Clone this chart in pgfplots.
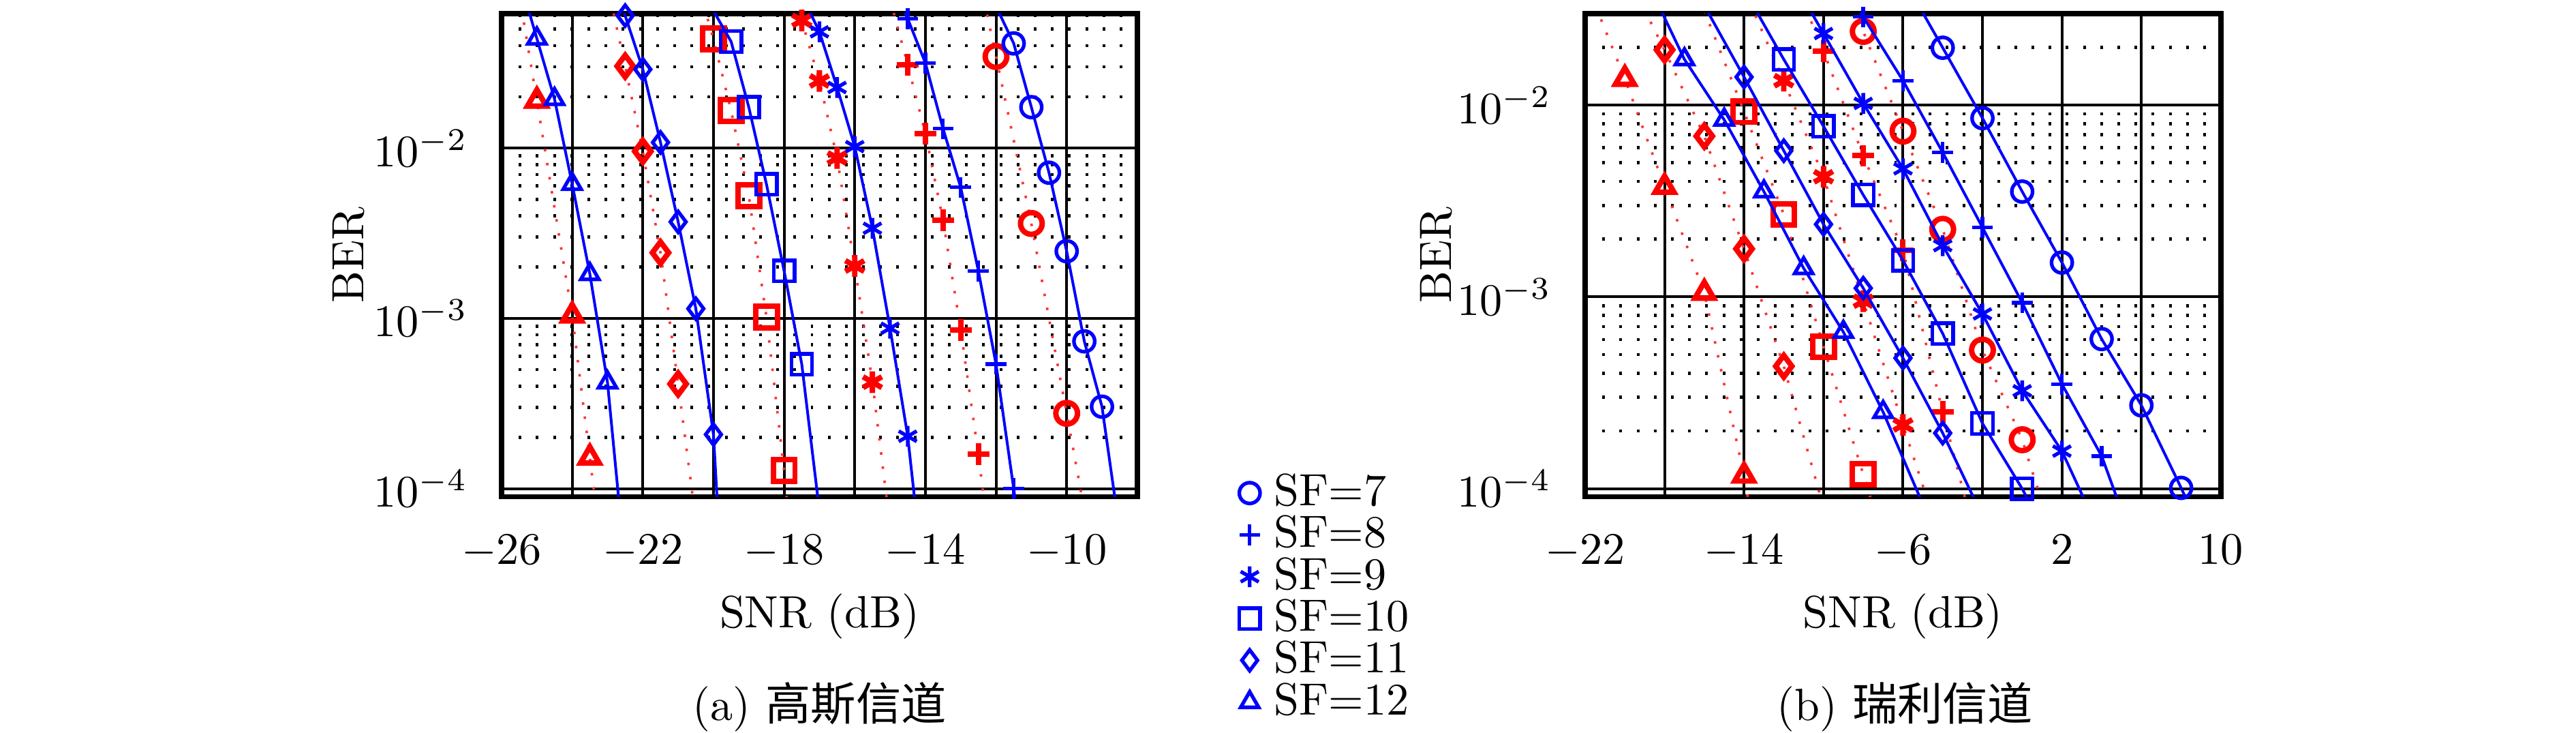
\documentclass[border=0pt]{standalone}
\usepackage{pgfplots}
\pgfplotsset{compat=1.18}
\usepackage{fontspec}
\newfontfamily\cjk{Noto Sans CJK SC}
\pgfplotsset{
  berax/.style={
    scale only axis, width=140.7pt, height=106.9pt,
    anchor=south west,
    clip mode=individual,
    axis line style={line width=1.1pt},
    xmajorgrids, ymajorgrids, yminorgrids,
    major grid style={black, line width=0.6pt},
    minor grid style={black, line width=0.7pt, dash pattern=on 0.6pt off 3.2pt},
    major tick length=0pt, minor tick length=0pt,
    ytick={1e-4,1e-3,1e-2},
    xticklabel style={yshift=-5pt},
    yticklabel style={xshift=-4pt},
    xlabel={SNR (dB)}, ylabel={BER},
    xlabel style={at={(axis description cs:0.5,0)}, anchor=center, yshift=-26.5pt},
  },
  bl/.style={blue, line width=0.6pt, mark=none, forget plot},
  rl/.style={red!80, line width=0.55pt, dash pattern=on 0.55pt off 2.6pt, mark=none, forget plot},
  bm/.style={blue, only marks, line width=0.8pt, mark size=2.3pt, mark options={solid}},
  rm/.style={red, only marks, line width=1.2pt, mark size=2.4pt, mark options={solid}, forget plot},
}
\begin{document}
\begin{tikzpicture}
\path[use as bounding box] (0,0) rectangle (570.1pt,162.1pt);
% ---------------- (a) Gaussian channel ----------------
\begin{semilogyaxis}[berax, at={(111pt,52.2pt)},
  xmin=-26, xmax=-8, ymin=8.95e-5, ymax=0.0617,
  xtick={-26,-24,...,-8},
  xticklabels={$-26$,,$-22$,,$-18$,,$-14$,,$-10$,},
  minor ytick={2e-4,3e-4,4e-4,5e-4,6e-4,7e-4,8e-4,9e-4,2e-3,3e-3,4e-3,5e-3,6e-3,7e-3,8e-3,9e-3,2e-2,3e-2,4e-2,5e-2,6e-2},
  ylabel style={at={(axis description cs:-0.24,0.5)}, anchor=center},
  legend style={at={(1.159,0.06)}, anchor=north west, draw=none, fill=none,
    inner sep=0pt, column sep=2pt, row sep=-1.5pt, nodes={inner sep=1.1pt}},
  legend cell align=left]
% red (dotted)
\addplot[rl] coordinates {(-12.5,0.107) (-12,0.0345) (-11,0.00361) (-10,2.77e-4) (-9.5,7.5e-5)};
\addplot[rl] coordinates {(-15,0.075) (-14.5,0.0309) (-14,0.0122) (-13.5,0.00377) (-13,8.57e-4) (-12.5,1.59e-4) (-12,2.3e-5)};
\addplot[rl] coordinates {(-18,0.12) (-17.5,0.0562) (-17,0.0248) (-16.5,0.00875) (-16,0.00203) (-15.5,4.22e-4) (-15,6e-5)};
\addplot[rl] coordinates {(-20.5,0.1) (-20,0.0437) (-19.5,0.0166) (-19,0.00526) (-18.5,1.02e-3) (-18,1.28e-4) (-17.5,1e-5)};
\addplot[rl] coordinates {(-23,0.09) (-22.5,0.0303) (-22,0.00957) (-21.5,0.00243) (-21,4.12e-4) (-20.5,6.5e-5)};
\addplot[rl] coordinates {(-25.5,0.08) (-25,0.019) (-24,1.04e-3) (-23.5,1.52e-4) (-23,2.2e-5)};
\addplot[rm, mark=o] coordinates {(-12,0.0345) (-11,0.00361) (-10,2.77e-4)};
\addplot[rm, mark=+] coordinates {(-14.5,0.0309) (-14,0.0122) (-13.5,0.00377) (-13,8.57e-4) (-12.5,1.59e-4)};
\addplot[rm, mark=asterisk] coordinates {(-17.5,0.0562) (-17,0.0248) (-16.5,0.00875) (-16,0.00203) (-15.5,4.22e-4)};
\addplot[rm, mark=square] coordinates {(-20,0.0437) (-19.5,0.0166) (-19,0.00526) (-18.5,1.02e-3) (-18,1.28e-4)};
\addplot[rm, mark=diamond] coordinates {(-22.5,0.0303) (-22,0.00957) (-21.5,0.00243) (-21,4.12e-4)};
\addplot[rm, mark=triangle] coordinates {(-25,0.019) (-24,1.04e-3) (-23.5,1.52e-4)};
% blue (solid)
\addplot[bl] coordinates {(-12,0.068) (-11.5,0.0412) (-11,0.0174) (-10.5,0.00717) (-10,0.00248) (-9.5,7.33e-4) (-9,3.03e-4) (-8.5,5.6e-5)};
\addplot[bl] coordinates {(-15,0.09) (-14.5,0.0575) (-14,0.0316) (-13.5,0.013) (-13,0.00588) (-12.5,0.0019) (-12,5.38e-4) (-11.5,1.0e-4) (-11,1.9e-5)};
\addplot[bl] coordinates {(-17.5,0.079) (-17,0.0482) (-16.5,0.0227) (-16,0.0102) (-15.5,0.00338) (-15,8.75e-4) (-14.5,2.03e-4) (-14,2.3e-5)};
\addplot[bl] coordinates {(-20.5,0.1) (-20,0.064) (-19.5,0.0422) (-19,0.0174) (-18.5,0.00614) (-18,0.0019) (-17.5,5.38e-4) (-17,7.4e-5)};
\addplot[bl] coordinates {(-23,0.12) (-22.5,0.060) (-22,0.029) (-21.5,0.0108) (-21,0.00369) (-20.5,0.00114) (-20,2.08e-4) (-19.5,3e-6)};
\addplot[bl] coordinates {(-25.5,0.1) (-25,0.044) (-24.5,0.0194) (-24,0.00615) (-23.5,0.00182) (-23,4.2e-4) (-22.5,3.5e-5)};
\addplot[bm, mark=o] coordinates {(-11.5,0.0412) (-11,0.0174) (-10.5,0.00717) (-10,0.00248) (-9.5,7.33e-4) (-9,3.03e-4)};
\addlegendentry{SF=7}
\addplot[bm, mark=+] coordinates {(-14.5,0.0575) (-14,0.0316) (-13.5,0.013) (-13,0.00588) (-12.5,0.0019) (-12,5.38e-4) (-11.5,1.0e-4)};
\addlegendentry{SF=8}
\addplot[bm, mark=asterisk] coordinates {(-17,0.0482) (-16.5,0.0227) (-16,0.0102) (-15.5,0.00338) (-15,8.75e-4) (-14.5,2.03e-4)};
\addlegendentry{SF=9}
\addplot[bm, mark=square] coordinates {(-19.5,0.0422) (-19,0.0174) (-18.5,0.00614) (-18,0.0019) (-17.5,5.38e-4)};
\addlegendentry{SF=10}
\addplot[bm, mark=diamond] coordinates {(-22.5,0.060) (-22,0.029) (-21.5,0.0108) (-21,0.00369) (-20.5,0.00114) (-20,2.08e-4)};
\addlegendentry{SF=11}
\addplot[bm, mark=triangle] coordinates {(-25,0.044) (-24.5,0.0194) (-24,0.00615) (-23.5,0.00182) (-23,4.2e-4)};
\addlegendentry{SF=12}
\end{semilogyaxis}
% ---------------- (b) Rayleigh channel ----------------
\begin{semilogyaxis}[berax, at={(350.8pt,52.2pt)},
  xmin=-22, xmax=10, ymin=9.07e-5, ymax=0.03,
  xtick={-22,-18,...,10},
  xticklabels={$-22$,,$-14$,,$-6$,,$2$,,$10$},
  minor ytick={2e-4,3e-4,4e-4,5e-4,6e-4,7e-4,8e-4,9e-4,2e-3,3e-3,4e-3,5e-3,6e-3,7e-3,8e-3,9e-3,2e-2},
  ylabel style={at={(axis description cs:-0.234,0.5)}, anchor=center}]
% red (dotted)
\addplot[rl] coordinates {(-10,0.07) (-8,0.0242) (-6,0.00731) (-4,0.00225) (-2,5.28e-4) (0,1.8e-4) (2,4e-5)};
\addplot[rl] coordinates {(-12,0.06) (-10,0.0191) (-8,0.00544) (-6,0.00175) (-4,2.51e-4) (-2,4e-5)};
\addplot[rl] coordinates {(-14,0.04) (-12,0.0134) (-10,0.00423) (-8,9.5e-4) (-6,2.15e-4) (-4,5e-5)};
\addplot[rl] coordinates {(-16,0.031) (-14,0.00925) (-12,0.00269) (-10,5.5e-4) (-8,1.19e-4) (-6,2.5e-5)};
\addplot[rl] coordinates {(-20,0.05) (-18,0.0194) (-16,0.00689) (-14,0.00178) (-12,4.35e-4) (-10,8e-5)};
\addplot[rl] coordinates {(-22,0.045) (-20,0.0137) (-18,0.00375) (-16,1.05e-3) (-14,1.17e-4) (-13,3e-5)};
\addplot[rm, mark=o] coordinates {(-8,0.0242) (-6,0.00731) (-4,0.00225) (-2,5.28e-4) (0,1.8e-4)};
\addplot[rm, mark=+] coordinates {(-10,0.0191) (-8,0.00544) (-6,0.00175) (-4,2.51e-4)};
\addplot[rm, mark=asterisk] coordinates {(-12,0.0134) (-10,0.00423) (-8,9.5e-4) (-6,2.15e-4)};
\addplot[rm, mark=square] coordinates {(-14,0.00925) (-12,0.00269) (-10,5.5e-4) (-8,1.19e-4)};
\addplot[rm, mark=diamond] coordinates {(-18,0.0194) (-16,0.00689) (-14,0.00178) (-12,4.35e-4)};
\addplot[rm, mark=triangle] coordinates {(-20,0.0137) (-18,0.00375) (-16,1.05e-3) (-14,1.17e-4)};
% blue (solid)
\addplot[bl] coordinates {(-6,0.046) (-4,0.0199) (-2,0.00855) (0,0.00354) (2,0.00151) (4,6.03e-4) (6,2.72e-4) (8,1.01e-4) (10,3.5e-5)};
\addplot[bl] coordinates {(-10,0.065) (-8,0.0288) (-6,0.0134) (-4,0.00566) (-2,0.0023) (0,9.33e-4) (2,3.51e-4) (4,1.48e-4) (6,4e-5)};
\addplot[bl] coordinates {(-12,0.054) (-10,0.0236) (-8,0.0102) (-6,0.00465) (-4,0.00185) (-2,8.15e-4) (0,3.24e-4) (2,1.57e-4) (4,5.6e-5)};
\addplot[bl] coordinates {(-14,0.04) (-12,0.0173) (-10,0.00775) (-8,0.0034) (-6,0.00155) (-4,6.44e-4) (-2,2.19e-4) (0,1.0e-4) (2,4e-5)};
\addplot[bl] coordinates {(-16,0.033) (-14,0.014) (-12,0.00578) (-10,0.00239) (-8,0.00111) (-6,4.8e-4) (-4,1.95e-4) (-2,7.2e-5)};
\addplot[bl] coordinates {(-19,0.047) (-17,0.0173) (-15,0.00838) (-13,0.00354) (-11,0.00141) (-9,6.56e-4) (-7,2.51e-4) (-5,8.3e-5)};
\addplot[bm, mark=o, forget plot] coordinates {(-4,0.0199) (-2,0.00855) (0,0.00354) (2,0.00151) (4,6.03e-4) (6,2.72e-4) (8,1.01e-4)};
\addplot[bm, mark=+, forget plot] coordinates {(-8,0.0288) (-6,0.0134) (-4,0.00566) (-2,0.0023) (0,9.33e-4) (2,3.51e-4) (4,1.48e-4)};
\addplot[bm, mark=asterisk, forget plot] coordinates {(-10,0.0236) (-8,0.0102) (-6,0.00465) (-4,0.00185) (-2,8.15e-4) (0,3.24e-4) (2,1.57e-4)};
\addplot[bm, mark=square, forget plot] coordinates {(-12,0.0173) (-10,0.00775) (-8,0.0034) (-6,0.00155) (-4,6.44e-4) (-2,2.19e-4) (0,1.0e-4)};
\addplot[bm, mark=diamond, forget plot] coordinates {(-14,0.014) (-12,0.00578) (-10,0.00239) (-8,0.00111) (-6,4.8e-4) (-4,1.95e-4)};
\addplot[bm, mark=triangle, forget plot] coordinates {(-17,0.0173) (-15,0.00838) (-13,0.00354) (-11,0.00141) (-9,6.56e-4) (-7,2.51e-4)};
\end{semilogyaxis}
\node at (181.4pt,5.7pt) {(a) {\cjk 高斯信道}};
\node at (421.6pt,5.7pt) {(b) {\cjk 瑞利信道}};
\end{tikzpicture}
\end{document}
